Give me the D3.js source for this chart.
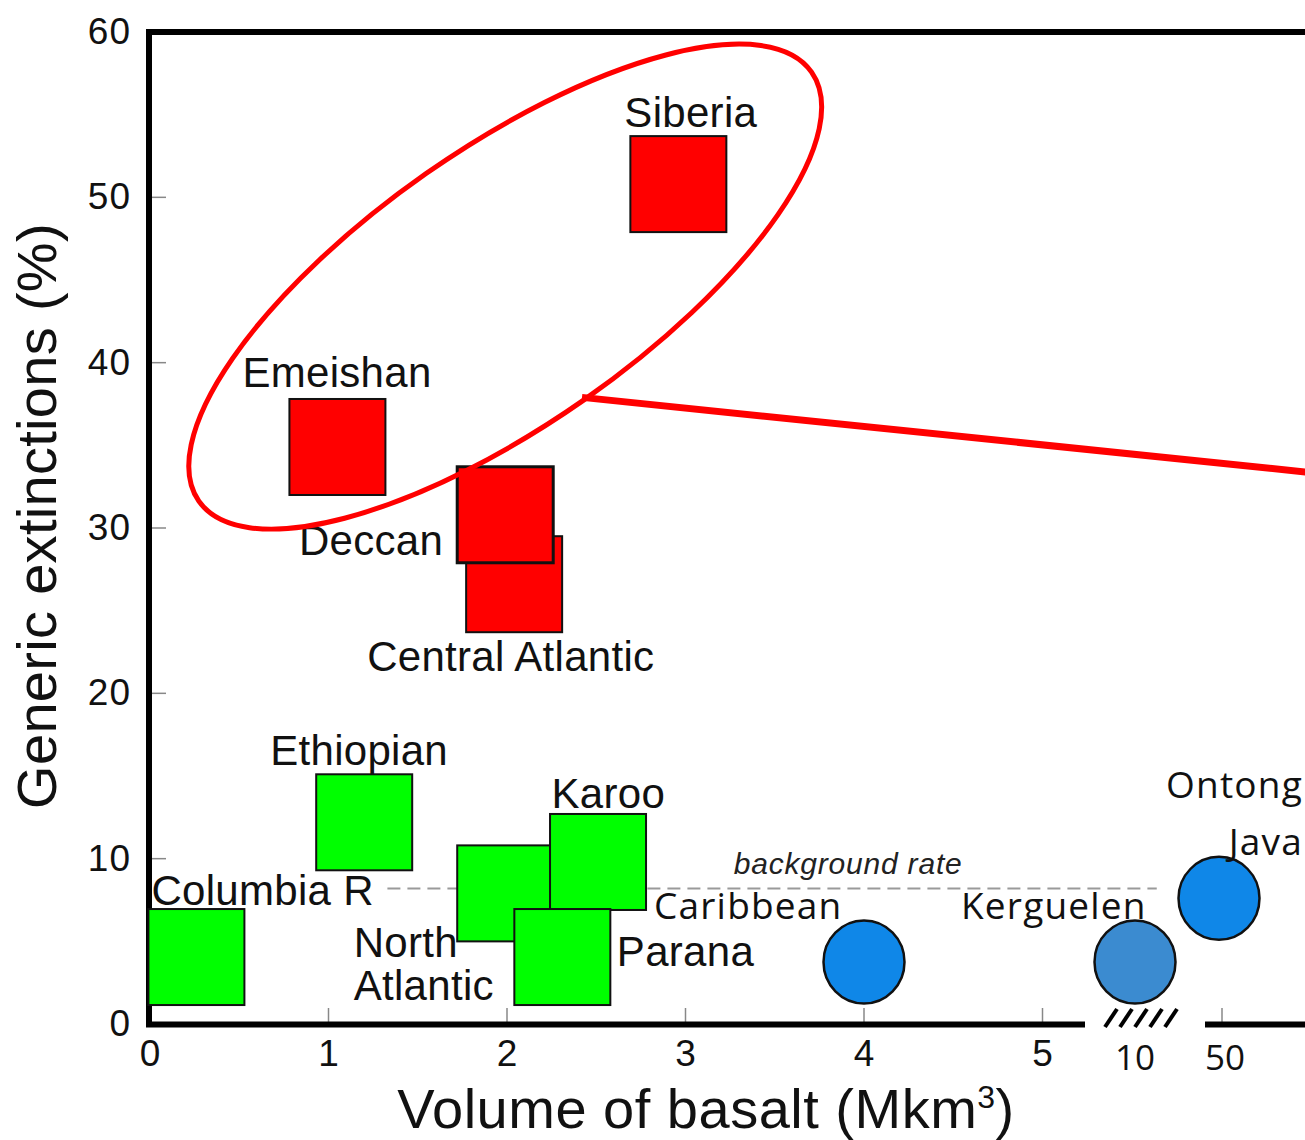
<!DOCTYPE html>
<html>
<head>
<meta charset="utf-8">
<script src="https://cdn.jsdelivr.net/npm/d3@7"></script>
<style>
  html, body { margin: 0; padding: 0; background: #fff; }
  svg { display: block; }
</style>
</head>
<body>
<svg id="chart" width="1305" height="1140"></svg>
<script>
// ---------- data ----------
const lipNames      = ["Columbia R", "Ethiopian", "North Atlantic", "Karoo", "Parana", "Central Atlantic", "Deccan", "Emeishan", "Siberia"];
const lipVolume     = [0.26, 1.20, 1.99, 2.51, 2.31, 2.04, 1.99, 1.05, 2.96];
const lipExtinction = [4.05, 12.2, 7.9, 9.8, 4.05, 26.6, 30.8, 34.9, 50.8];
const lipMassExtinction = [false, false, false, false, false, true, true, true, true];

const oceanicNames      = ["Caribbean", "Kerguelen", "Ontong Java"];
const oceanicVolume     = [4, 10, 50];
const oceanicExtinction = [3.75, 3.75, 7.6];

const xTickValues = [0, 1, 2, 3, 4, 5, 10, 50];
const xTickLabels = ["0", "1", "2", "3", "4", "5", "10", "50"];
const yTickValues = [0, 10, 20, 30, 40, 50, 60];

const backgroundRate = 8.2;
const backgroundRange = [1.33, 20];

// ---------- layout / scales ----------
const svg = d3.select("#chart");
const x = d3.scaleLinear().domain([0, 5, 10, 50]).range([150, 1042.5, 1135, 1222]);
const y = d3.scaleLinear().domain([0, 60]).range([1024, 32]);

const helv = "'Liberation Sans', Arial, Helvetica, sans-serif";
const cali = "'Open Sans', 'Noto Sans', sans-serif";

// label placement (pixel offsets from marker centre)
const labelPlace = {
  "Siberia":          {dx: -54,  dy: -57.5, anchor: "start", lines: ["Siberia"]},
  "Emeishan":         {dx: -95,  dy: -59.5, anchor: "start", lines: ["Emeishan"]},
  "Deccan":           {dx: -62,  dy: 40,    anchor: "end",   lines: ["Deccan"]},
  "Central Atlantic": {dx: -147, dy: 86.5,  anchor: "start", lines: ["Central Atlantic"]},
  "Ethiopian":        {dx: -94,  dy: -57,   anchor: "start", lines: ["Ethiopian"]},
  "Karoo":            {dx: -46.5,dy: -53.5, anchor: "start", lines: ["Karoo"]},
  "Columbia R":       {dx: -45,  dy: -52,   anchor: "start", lines: ["Columbia R"]},
  "North Atlantic":   {dx: -151.5,dy: 64,   anchor: "start", lines: ["North", "Atlantic"]},
  "Parana":           {dx: 54.5, dy: 9,     anchor: "start", lines: ["Parana"]},
  "Caribbean":        {dx: -210, dy: -43,   anchor: "start", lines: ["Caribbean"]},
  "Kerguelen":        {dx: -174, dy: -43,   anchor: "start", lines: ["Kerguelen"]},
  "Ontong Java":      {dx: 81,   dy: -100,  anchor: "end",   lines: ["Ontong", "Java"], lineGap: 57}
};

// ---------- background rate ----------
svg.append("line")
  .attr("x1", x(backgroundRange[0])).attr("x2", x(backgroundRange[1]))
  .attr("y1", y(backgroundRate)).attr("y2", y(backgroundRate))
  .attr("stroke", "#9a9a9a").attr("stroke-width", 2)
  .attr("stroke-dasharray", "13 7");
svg.append("text")
  .attr("x", x(3.27)).attr("y", y(backgroundRate) - 14)
  .attr("font-family", helv).attr("font-style", "italic")
  .attr("font-size", 30).attr("letter-spacing", 0.8).attr("fill", "#222")
  .text("background rate");

// ---------- axes ----------
const axisG = svg.append("g");
// y ticks (inward)
axisG.selectAll(".ytick").data(yTickValues.filter(v => v > 0 && v < 60)).enter()
  .append("line")
  .attr("x1", 150).attr("x2", 166)
  .attr("y1", d => y(d)).attr("y2", d => y(d))
  .attr("stroke", "#888").attr("stroke-width", 1.5);
axisG.selectAll(".ylab").data(yTickValues).enter()
  .append("text")
  .attr("x", 131).attr("y", d => y(d) + 12)
  .attr("text-anchor", "end")
  .attr("font-family", helv).attr("font-size", 37).attr("letter-spacing", 1).attr("fill", "#111")
  .text(d => d);
// x ticks (inward)
axisG.selectAll(".xtick").data(xTickValues.filter(v => v > 0 && v !== 10)).enter()
  .append("line")
  .attr("x1", d => x(d)).attr("x2", d => x(d))
  .attr("y1", 1022).attr("y2", 1008)
  .attr("stroke", "#888").attr("stroke-width", 1.5);
axisG.selectAll(".xlab").data(xTickValues).enter()
  .append("text")
  .attr("x", d => x(d) + (d === 50 ? 3 : 0)).attr("y", d => d >= 10 ? 1070 : 1066)
  .attr("text-anchor", "middle")
  .attr("font-family", d => d >= 10 ? cali : helv)
  .attr("font-size", d => d >= 10 ? 35 : 37).attr("fill", "#111")
  .text((d, i) => xTickLabels[i]);

// frame lines
axisG.append("line").attr("x1", 146).attr("x2", 1310).attr("y1", 32).attr("y2", 32)
  .attr("stroke", "#000").attr("stroke-width", 6);
axisG.append("line").attr("x1", 149).attr("x2", 149).attr("y1", 29).attr("y2", 1027)
  .attr("stroke", "#000").attr("stroke-width", 6);
axisG.append("line").attr("x1", 146).attr("x2", 1085).attr("y1", 1024.5).attr("y2", 1024.5)
  .attr("stroke", "#000").attr("stroke-width", 6);
axisG.append("line").attr("x1", 1205).attr("x2", 1310).attr("y1", 1024.5).attr("y2", 1024.5)
  .attr("stroke", "#000").attr("stroke-width", 6);
// axis break hatch around 10
const hatch = d3.range(5).map(i => x(10) - 24 + i * 15);
axisG.selectAll(".hatch").data(hatch).enter().append("line")
  .attr("x1", d => d - 6).attr("x2", d => d + 6)
  .attr("y1", 1027).attr("y2", 1009)
  .attr("stroke", "#000").attr("stroke-width", 4);

// ---------- markers ----------
const S = 96;
const lipData = lipNames.map((n, i) => ({name: n, v: lipVolume[i], e: lipExtinction[i], mass: lipMassExtinction[i]}));
svg.append("g").selectAll("rect").data(lipData).enter().append("rect")
  .attr("x", d => x(d.v) - S / 2).attr("y", d => y(d.e) - S / 2)
  .attr("width", S).attr("height", S)
  .attr("fill", d => d.mass ? "#ff0000" : "#00ff00")
  .attr("stroke", "#111")
  .attr("stroke-width", d => d.name === "Deccan" ? 3 : 2);

const ocData = oceanicNames.map((n, i) => ({name: n, v: oceanicVolume[i], e: oceanicExtinction[i]}));
svg.append("g").selectAll("ellipse").data(ocData).enter().append("ellipse")
  .attr("cx", d => x(d.v) - (d.v === 50 ? 3 : 0)).attr("cy", d => y(d.e))
  .attr("rx", 40.5).attr("ry", 41.5)
  .attr("fill", d => d.name === "Kerguelen" ? "#3b8bd0" : "#0f87e8")
  .attr("stroke", "#111").attr("stroke-width", 2.5);

// ---------- labels ----------
const allLabels = lipData.map(d => ({...d, font: helv, size: 42, ls: 0.3}))
  .concat(ocData.map(d => ({...d, font: cali, size: 37, ls: 1.2})));
const lg = svg.append("g");
allLabels.forEach(d => {
  const p = labelPlace[d.name];
  const t = lg.append("text")
    .attr("x", x(d.v) + p.dx).attr("y", y(d.e) + p.dy)
    .attr("text-anchor", p.anchor)
    .attr("font-family", d.font).attr("font-size", d.size)
    .attr("letter-spacing", d.ls).attr("fill", "#111");
  p.lines.forEach((ln, k) => {
    t.append("tspan").attr("x", x(d.v) + p.dx)
      .attr("dy", k === 0 ? 0 : (p.lineGap || 43)).text(ln);
  });
});

// ---------- annotation: ellipse + pointer ----------
const ell = {cx: 1.99, cy: 44.6, rx: 374, ry: 138, angle: -35};
svg.append("ellipse")
  .attr("transform", `translate(${x(ell.cx)},${y(ell.cy)}) rotate(${ell.angle})`)
  .attr("rx", ell.rx).attr("ry", ell.ry)
  .attr("fill", "none").attr("stroke", "#ff0000").attr("stroke-width", 5);
const pointer = [[2.42, 37.9], [95, 33.3]];
svg.append("line")
  .attr("x1", x(pointer[0][0])).attr("y1", y(pointer[0][1]))
  .attr("x2", x(pointer[1][0])).attr("y2", y(pointer[1][1]))
  .attr("stroke", "#ff0000").attr("stroke-width", 7);

// ---------- axis titles ----------
svg.append("text")
  .attr("transform", "translate(56,516) rotate(-90)")
  .attr("text-anchor", "middle")
  .attr("font-family", helv).attr("font-size", 56).attr("letter-spacing", 0.3).attr("fill", "#111")
  .text("Generic extinctions (%)");
const xt = svg.append("text")
  .attr("x", 706).attr("y", 1128)
  .attr("text-anchor", "middle")
  .attr("font-family", helv).attr("font-size", 56).attr("letter-spacing", 0.5).attr("fill", "#111");
xt.append("tspan").text("Volume of basalt (Mkm");
xt.append("tspan").attr("font-size", 32).attr("dy", -20).text("3");
xt.append("tspan").attr("dy", 20).text(")");
</script>
</body>
</html>
